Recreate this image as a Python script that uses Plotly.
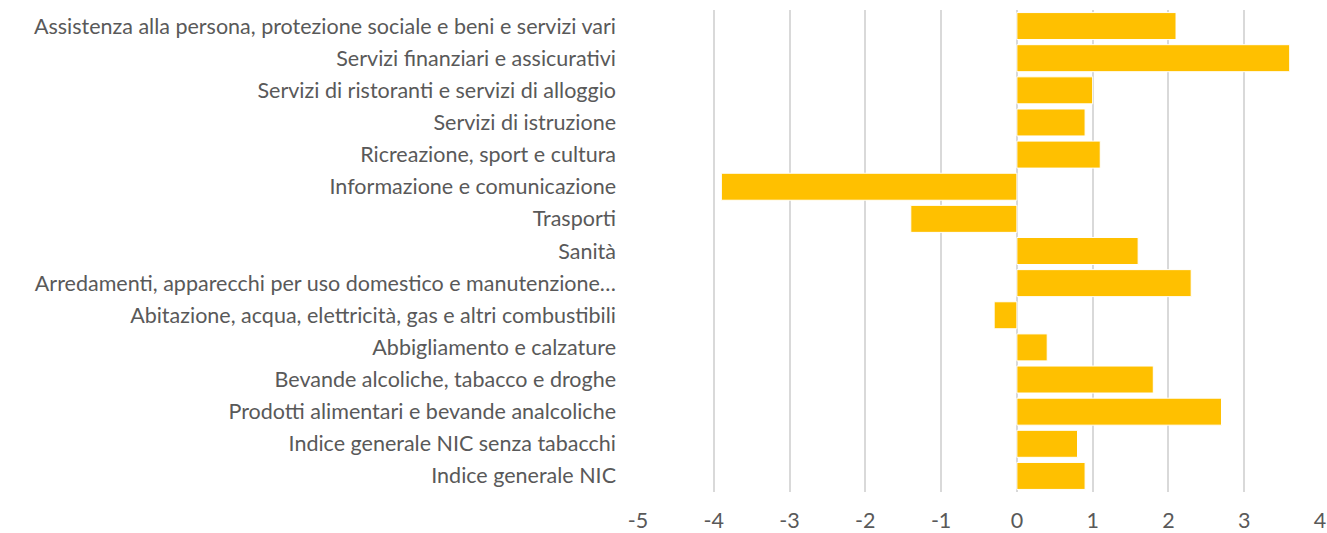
import plotly.graph_objects as go

categories = [
    "Indice generale NIC",
    "Indice generale NIC senza tabacchi",
    "Prodotti alimentari e bevande analcoliche",
    "Bevande alcoliche, tabacco e droghe",
    "Abbigliamento e calzature",
    "Abitazione, acqua, elettricità, gas e altri combustibili",
    "Arredamenti, apparecchi per uso domestico e manutenzione…",
    "Sanità",
    "Trasporti",
    "Informazione e comunicazione",
    "Ricreazione, sport e cultura",
    "Servizi di istruzione",
    "Servizi di ristoranti e servizi di alloggio",
    "Servizi finanziari e assicurativi",
    "Assistenza alla persona, protezione sociale e beni e servizi vari",
]
values = [0.9, 0.8, 2.7, 1.8, 0.4, -0.3, 2.3, 1.6, -1.4, -3.9, 1.1, 0.9, 1.0, 3.6, 2.1]
x_ticks = [-5, -4, -3, -2, -1, 0, 1, 2, 3, 4]
x_tick_labels = ["-5", "-4", "-3", "-2", "-1", "0", "1", "2", "3", "4"]

fig = go.Figure(go.Bar(
    y=categories, x=values, orientation="h",
    marker=dict(color="#FFC000", line=dict(color="#FFFFFF", width=1)),
))

fig.update_layout(
    width=1327, height=533,
    margin=dict(l=638, r=7, t=10, b=41),
    plot_bgcolor="white", paper_bgcolor="white",
    bargap=0.16,
    showlegend=False,
    font=dict(family="Lato", size=21.5, color="#595959"),
)
fig.update_xaxes(
    range=[-5, 4], tickvals=x_ticks, ticktext=x_tick_labels,
    showgrid=True, gridcolor="#D9D9D9", gridwidth=1.5,
    zeroline=True, zerolinecolor="#D9D9D9", zerolinewidth=1.5, showline=False,
    ticks="", automargin=False, ticklabelstandoff=13,
    tickfont=dict(size=21.5, color="#595959"),
)
fig.update_yaxes(
    type="category", showgrid=False, showline=False, ticks="", automargin=False,
    ticklabelstandoff=21, tickfont=dict(size=21.5, color="#595959"),
)

fig.write_html(
    "out.html",
    config={"displayModeBar": False},
    post_script="document.body.style.margin='0';document.body.style.overflow='hidden';",
)
